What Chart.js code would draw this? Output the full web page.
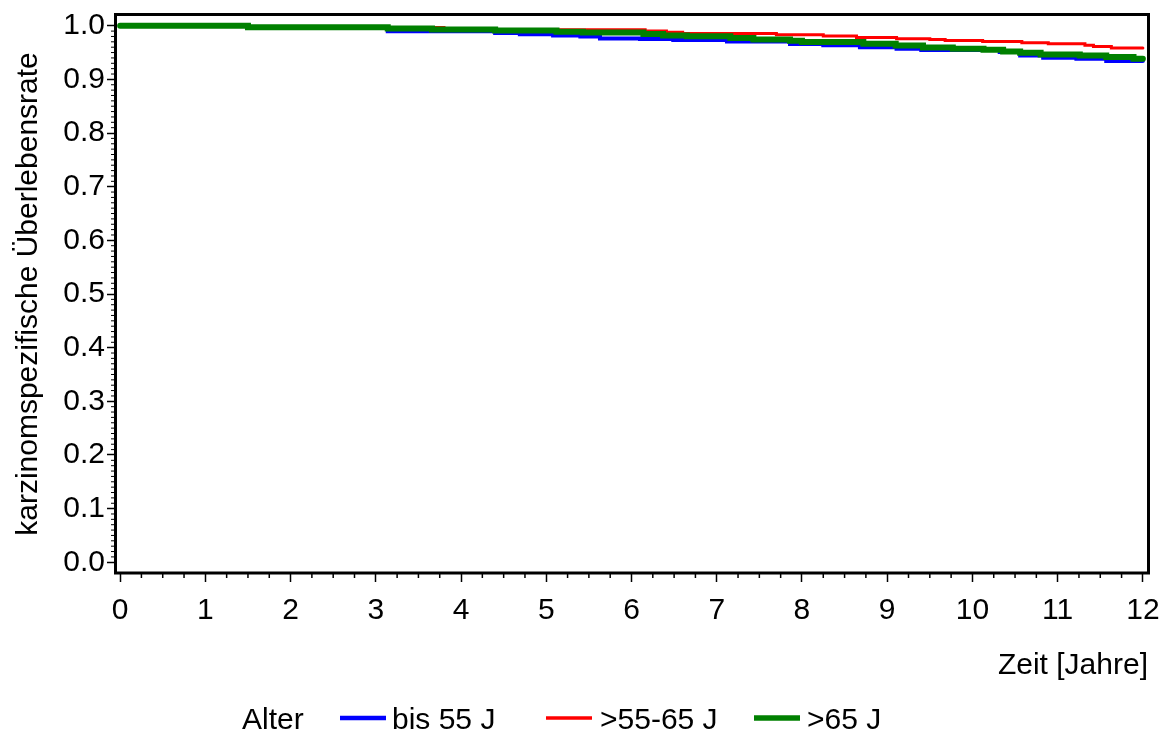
<!DOCTYPE html>
<html><head><meta charset="utf-8">
<script src="https://cdn.jsdelivr.net/npm/chart.js@4"></script>
<style>html,body{margin:0;padding:0;background:#fff}canvas{display:block}</style>
</head><body>
<canvas id="c" width="1168" height="733"></canvas>
<script>
// ---- data ----
const seriesNames = ['bis 55 J', '>55-65 J', '>65 J'];
const legendTitle = 'Alter';
const xTitle = 'Zeit [Jahre]';
const yTitle = 'karzinomspezifische Überlebensrate';
const xTickValues = [0,1,2,3,4,5,6,7,8,9,10,11,12];
const yTickValues = [0,0.1,0.2,0.3,0.4,0.5,0.6,0.7,0.8,0.9,1.0];

const timesBlue = [0, 1.5, 3.14, 4.4, 4.69, 5.08, 5.4, 5.63, 6.1, 6.49, 7.12, 7.86, 8.25, 8.68, 9.11, 9.4, 10.32, 10.56, 10.83, 11.22, 11.57, 12];
const survBlue  = [1.0, 0.997, 0.9895, 0.9864, 0.9839, 0.982, 0.9801, 0.9764, 0.9752, 0.9735, 0.9708, 0.9658, 0.9634, 0.9597, 0.957, 0.955, 0.951, 0.9447, 0.9404, 0.9386, 0.9342, 0.9342];

const timesRed = [0, 1.5, 3.14, 3.8, 4.4, 6.16, 6.41, 6.6, 7.7, 8.25, 8.64, 9.11, 9.5, 9.68, 10.12, 10.58, 10.89, 11.32, 11.42, 11.63, 12];
const survRed  = [1.0, 0.998, 0.9965, 0.994, 0.9925, 0.990, 0.988, 0.9855, 0.983, 0.981, 0.978, 0.9758, 0.9742, 0.9727, 0.9708, 0.9683, 0.9665, 0.9634, 0.9615, 0.9584, 0.9584];

const timesGreen = [0, 1.5, 3.14, 3.66, 4.4, 5.12, 5.43, 6.14, 6.37, 6.65, 7.16, 7.43, 7.86, 8.0, 8.72, 9.1, 9.42, 9.77, 10.13, 10.36, 10.56, 10.8, 11.26, 11.57, 11.89, 12];
const survGreen  = [1.0, 0.997, 0.995, 0.993, 0.991, 0.989, 0.9875, 0.9844, 0.982, 0.9805, 0.9769, 0.9745, 0.972, 0.9695, 0.9665, 0.963, 0.9595, 0.957, 0.9553, 0.9521, 0.9497, 0.9466, 0.9447, 0.9415, 0.9386, 0.9386];

const pts = (t, s) => t.map((v, i) => ({x: v, y: s[i]}));

const FONT = {family: '"Liberation Sans", Arial, Helvetica, sans-serif', size: 30};

const styler = {
  id: 'styler',
  afterDraw(chart){
    const {ctx, chartArea: a, scales: {x, y}} = chart;
    ctx.save();
    ctx.strokeStyle = '#000';
    // minor x ticks
    ctx.lineWidth = 1.5;
    ctx.beginPath();
    for (let i = 1; i < 48; i++) {
      if (i % 4 === 0) continue;
      const px = x.getPixelForValue(i / 4);
      ctx.moveTo(px, a.bottom); ctx.lineTo(px, a.bottom + 5);
    }
    ctx.stroke();
    // minor y ticks
    ctx.lineWidth = 1;
    ctx.beginPath();
    for (let i = 1; i < 100; i++) {
      if (i % 10 === 0) continue;
      const py = y.getPixelForValue(i / 100);
      ctx.moveTo(a.left, py); ctx.lineTo(a.left - 4, py);
    }
    ctx.stroke();
    // frame
    ctx.lineWidth = 3;
    ctx.strokeRect(a.left + 0.5, a.top - 0.5, a.right - a.left, a.bottom - a.top + 0.5);
    // legend
    ctx.font = FONT.size + 'px ' + FONT.family;
    ctx.fillStyle = '#000';
    ctx.textBaseline = 'alphabetic';
    ctx.textAlign = 'left';
    const base = 729, lineY = 718;
    ctx.fillText(legendTitle, 242, base);
    const items = [
      {lx: 340, tx: 392},
      {lx: 546, tx: 600},
      {lx: 754, tx: 807}
    ];
    chart.data.datasets.forEach((ds, i) => {
      const it = items[i];
      ctx.strokeStyle = ds.borderColor;
      ctx.lineWidth = ds.legendWidth;
      ctx.lineCap = 'butt';
      ctx.beginPath();
      ctx.moveTo(it.lx, lineY); ctx.lineTo(it.lx + 46, lineY);
      ctx.stroke();
      ctx.fillText(ds.label, it.tx, base);
    });
    ctx.restore();
  }
};

new Chart(document.getElementById('c'), {
  type: 'line',
  data: {
    datasets: [
      {label: seriesNames[0], data: pts(timesBlue, survBlue), borderColor: '#0000ff', borderWidth: 4, legendWidth: 4.5, order: 3},
      {label: seriesNames[1], data: pts(timesRed, survRed), borderColor: '#ff0000', borderWidth: 3, legendWidth: 3.5, order: 2},
      {label: seriesNames[2], data: pts(timesGreen, survGreen), borderColor: '#008000', borderWidth: 6, legendWidth: 5.5, order: 1}
    ]
  },
  options: {
    responsive: false,
    animation: false,
    devicePixelRatio: 1,
    layout: {padding: {left: 0, right: 20, top: 15, bottom: 0}},
    elements: {
      line: {stepped: true, tension: 0, fill: false, borderCapStyle: 'round', borderJoinStyle: 'miter'},
      point: {radius: 0, hoverRadius: 0}
    },
    plugins: {legend: {display: false}, tooltip: {enabled: false}, title: {display: false}},
    scales: {
      x: {
        type: 'linear', min: -0.06, max: 12.06,
        afterBuildTicks: s => { s.ticks = xTickValues.map(v => ({value: v})); },
        afterFit: s => { s.height = 160; s.paddingLeft = 0; s.paddingRight = 0; },
        grid: {display: true, drawOnChartArea: false, drawTicks: true, tickLength: 9, tickWidth: 1.5, tickColor: '#000'},
        border: {display: false},
        ticks: {font: FONT, color: '#000', padding: 11, maxRotation: 0, autoSkip: false, callback: v => String(v)},
        title: {display: true, text: xTitle, align: 'end', font: FONT, color: '#000', padding: {top: 0, bottom: 49}}
      },
      y: {
        type: 'linear', min: -0.02, max: 1.02,
        afterBuildTicks: s => { s.ticks = yTickValues.map(v => ({value: v})); },
        afterFit: s => { s.width = 115; s.paddingTop = 0; s.paddingBottom = 0; },
        grid: {display: true, drawOnChartArea: false, drawTicks: true, tickLength: 8, tickWidth: 1.5, tickColor: '#000'},
        border: {display: false},
        ticks: {font: FONT, color: '#000', padding: 2, autoSkip: false, callback: v => Number(v).toFixed(1)},
        title: {display: true, text: yTitle, font: FONT, color: '#000', padding: {top: 11, bottom: 0}}
      }
    }
  },
  plugins: [styler]
});
</script>
</body></html>
